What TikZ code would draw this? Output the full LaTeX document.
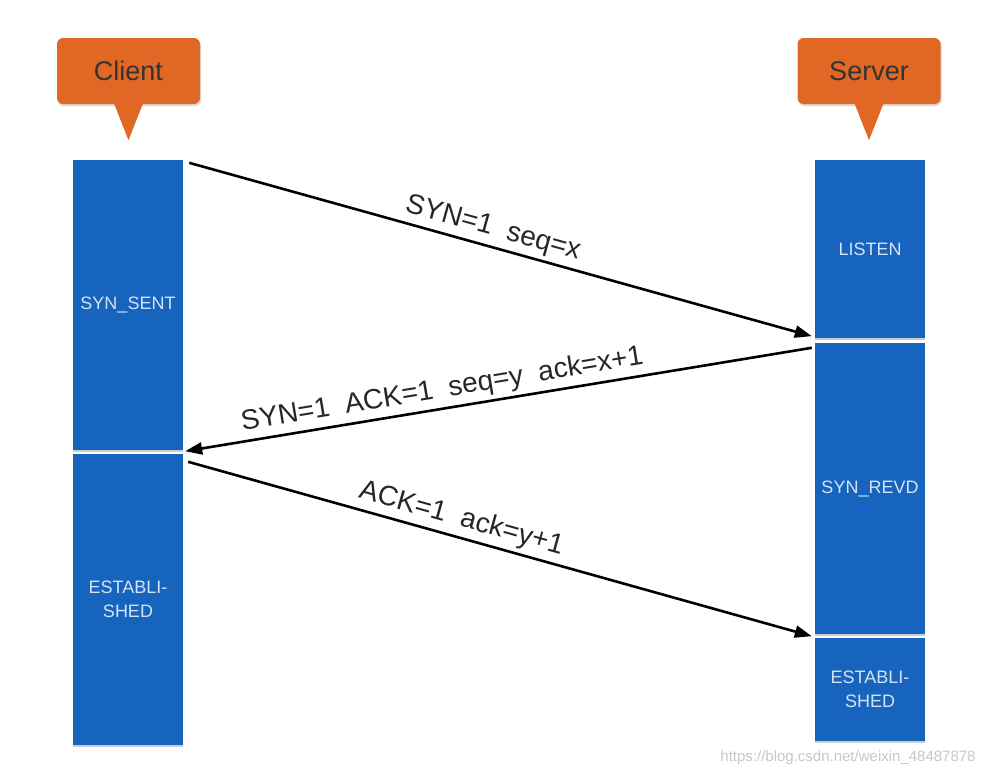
\documentclass[tikz,border=0pt]{standalone}
\usepackage{fontspec}
\setmainfont{Liberation Sans}
\usepackage{tikz}
\usetikzlibrary{arrows.meta,shadows}
\definecolor{barblue}{RGB}{22,100,190}
\definecolor{calloutorange}{RGB}{224,104,36}
\definecolor{statetext}{RGB}{212,226,245}

\begin{document}
\begin{tikzpicture}[x=1pt,y=-1pt,
  bar/.style={fill=barblue,minimum width=110pt,inner sep=0pt,align=center,text=statetext,
    font=\fontsize{18}{24}\selectfont,drop shadow={opacity=0.4,shadow xshift=0pt,shadow yshift=-2pt}},
  callout/.style={fill=calloutorange,rounded corners=6pt,minimum width=143pt,minimum height=66pt,
    text=black!80,font=\fontsize{27}{32}\selectfont,drop shadow={opacity=0.3,shadow xshift=1pt,shadow yshift=-2pt}},
  msg/.style={line width=2.6pt,-{Triangle[length=17pt,width=12pt]}},
  lbl/.style={sloped,above,inner sep=4pt,text=black!85,font=\fontsize{28}{32}\selectfont}]
\useasboundingbox (0,0) rectangle (993,777);
% callouts
\foreach \n/\x/\t in {client/128.5/Client,server/869/Server}{
\node[callout] (\n) at (\x,71) {\t};
\fill[calloutorange] ([xshift=-15pt,yshift=2pt]\n.south) -- ([xshift=15pt,yshift=2pt]\n.south) -- ([yshift=-36pt]\n.south) -- cycle;}
% client states
\node[bar,minimum height=290pt] (sent) at (128,305) {SYN\_SENT};
\node[bar,minimum height=291pt] (cest) at (128,599.5) {ESTABLI-\\SHED};
% server states
\node[bar,minimum height=178pt] (listen) at (870,249) {LISTEN};
\node[bar,minimum height=291pt] (revd) at (870,488.5) {SYN\_REVD};
\node[bar,minimum height=103pt] (sest) at (870,689.5) {ESTABLI-\\SHED};
% handshake
\draw[msg] ([shift={(6,3)}]sent.north east) -- node[lbl,pos=0.48]{SYN=1\ \ seq=x} ([shift={(-3,-2)}]listen.south west);
\draw[msg] ([shift={(-3,5)}]revd.north west) -- node[lbl,pos=0.585]{SYN=1\ \ ACK=1\ \ seq=y\ \ ack=x+1} ([shift={(2,1)}]sent.south east);
\draw[msg] ([shift={(5,8)}]cest.north east) -- node[lbl,pos=0.43]{ACK=1\ \ ack=y+1} ([shift={(-3,2)}]revd.south west);
\node[text=black!22,font=\fontsize{15}{18}\selectfont] (mark) at (848,758) {https://blog.csdn.net/weixin\_48487878};
\end{tikzpicture}
\end{document}
